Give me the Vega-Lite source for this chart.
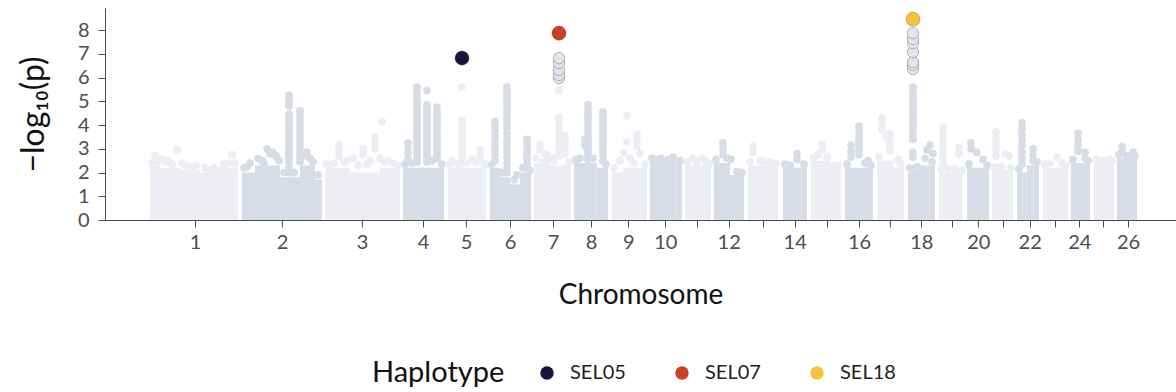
{
  "$schema": "https://vega.github.io/schema/vega-lite/v6.json",
  "width": 1071,
  "height": 212,
  "autosize": {"type": "none"},
  "padding": {"left": 105, "top": 8, "right": 0, "bottom": 172},
  "background": "white",
  "config": {
    "font": "Lato",
    "view": {"stroke": null},
    "axis": {"grid": false, "domainColor": "#4d4d4d", "tickColor": "#4d4d4d", "labelColor": "#4d4d4d", "titleColor": "#111111", "labelFont": "Lato", "titleFont": "Lato", "titleFontWeight": "normal"}
  },
  "datasets": {
    "bands": [
      {"chr":1,"start":0,"end":30,"top":2.3},{"chr":1,"start":30,"end":90,"top":2.2},{"chr":1,"start":90,"end":150,"top":2.1},{"chr":1,"start":150,"end":210,"top":2.0},{"chr":1,"start":210,"end":264,"top":2.2},
      {"chr":2,"start":276,"end":315,"top":2.0},{"chr":2,"start":315,"end":390,"top":2.3},{"chr":2,"start":390,"end":450,"top":1.8},{"chr":2,"start":450,"end":495,"top":2.3},{"chr":2,"start":495,"end":516,"top":1.7},
      {"chr":3,"start":525,"end":600,"top":2.2},{"chr":3,"start":600,"end":690,"top":2.0},{"chr":3,"start":690,"end":750,"top":2.2},
      {"chr":4,"start":759,"end":882,"top":2.2},
      {"chr":5,"start":894,"end":1008,"top":2.2},
      {"chr":6,"start":1020,"end":1050,"top":2.2},{"chr":6,"start":1050,"end":1080,"top":1.8},{"chr":6,"start":1080,"end":1110,"top":1.5},{"chr":6,"start":1110,"end":1143,"top":2.0},
      {"chr":7,"start":1152,"end":1170,"top":2.4},{"chr":7,"start":1170,"end":1200,"top":2.6},{"chr":7,"start":1200,"end":1263,"top":2.3},
      {"chr":8,"start":1272,"end":1340,"top":2.4},{"chr":8,"start":1340,"end":1374,"top":2.2},
      {"chr":9,"start":1386,"end":1420,"top":2.0},{"chr":9,"start":1420,"end":1491,"top":2.2},
      {"chr":10,"start":1500,"end":1580,"top":2.5},{"chr":10,"start":1580,"end":1596,"top":2.4},
      {"chr":11,"start":1605,"end":1683,"top":2.3},
      {"chr":12,"start":1692,"end":1740,"top":2.4},{"chr":12,"start":1740,"end":1782,"top":1.9},
      {"chr":13,"start":1794,"end":1884,"top":2.3},
      {"chr":14,"start":1899,"end":1971,"top":2.2},
      {"chr":15,"start":1983,"end":2040,"top":2.5},{"chr":15,"start":2040,"end":2073,"top":2.2},
      {"chr":16,"start":2085,"end":2169,"top":2.2},
      {"chr":17,"start":2181,"end":2230,"top":2.5},{"chr":17,"start":2230,"end":2262,"top":2.2},
      {"chr":18,"start":2274,"end":2310,"top":2.1},{"chr":18,"start":2310,"end":2355,"top":2.3},
      {"chr":19,"start":2367,"end":2439,"top":2.0},
      {"chr":20,"start":2451,"end":2517,"top":2.2},
      {"chr":21,"start":2526,"end":2589,"top":2.1},
      {"chr":22,"start":2601,"end":2630,"top":2.0},{"chr":22,"start":2630,"end":2667,"top":2.3},
      {"chr":23,"start":2679,"end":2754,"top":2.2},
      {"chr":24,"start":2763,"end":2820,"top":2.4},
      {"chr":25,"start":2832,"end":2892,"top":2.4},
      {"chr":26,"start":2901,"end":2961,"top":2.6}
    ],
    "pts": [
      {"chr":1,"pos":6,"p":2.4},{"chr":1,"pos":24,"p":2.5},{"chr":1,"pos":36,"p":2.55},{"chr":1,"pos":66,"p":2.35},{"chr":1,"pos":108,"p":2.3},{"chr":1,"pos":138,"p":2.3},{"chr":1,"pos":180,"p":2.1},{"chr":1,"pos":192,"p":2.2},{"chr":1,"pos":222,"p":2.35},{"chr":1,"pos":255,"p":2.4},
      {"chr":1,"pos":15,"p":2.7},{"chr":1,"pos":48,"p":2.45},{"chr":1,"pos":54,"p":2.5},{"chr":1,"pos":81,"p":2.95},{"chr":1,"pos":96,"p":2.4},{"chr":1,"pos":126,"p":2.25},{"chr":1,"pos":165,"p":2.2},{"chr":1,"pos":204,"p":2.1},{"chr":1,"pos":234,"p":2.4},{"chr":1,"pos":246,"p":2.75},
      {"chr":2,"pos":282,"p":2.2},{"chr":2,"pos":300,"p":2.4},{"chr":2,"pos":342,"p":2.4},{"chr":2,"pos":387,"p":2.5},{"chr":2,"pos":402,"p":2.0},{"chr":2,"pos":432,"p":2.0},{"chr":2,"pos":489,"p":2.45},{"chr":2,"pos":504,"p":1.9},
      {"chr":2,"pos":291,"p":2.25},{"chr":2,"pos":324,"p":2.6},{"chr":2,"pos":336,"p":2.5},{"chr":2,"pos":351,"p":3.0},{"chr":2,"pos":360,"p":2.8},{"chr":2,"pos":369,"p":2.85},{"chr":2,"pos":378,"p":2.7},
      {"chr":2,"pos":417,"p":5.25},{"chr":2,"pos":417,"p":5.1},{"chr":2,"pos":417,"p":4.95},{"chr":2,"pos":417,"p":4.8},{"chr":2,"pos":417,"p":4.45},{"chr":2,"pos":417,"p":4.3},{"chr":2,"pos":417,"p":4.1},{"chr":2,"pos":417,"p":3.95},{"chr":2,"pos":417,"p":3.8},{"chr":2,"pos":417,"p":3.65},{"chr":2,"pos":417,"p":3.5},{"chr":2,"pos":417,"p":3.35},{"chr":2,"pos":417,"p":3.2},{"chr":2,"pos":417,"p":3.05},{"chr":2,"pos":417,"p":2.9},{"chr":2,"pos":417,"p":2.75},{"chr":2,"pos":417,"p":2.6},{"chr":2,"pos":417,"p":2.45},{"chr":2,"pos":417,"p":2.2},{"chr":2,"pos":417,"p":2.0},
      {"chr":2,"pos":450,"p":4.6},{"chr":2,"pos":450,"p":4.45},{"chr":2,"pos":450,"p":4.3},{"chr":2,"pos":450,"p":4.1},{"chr":2,"pos":450,"p":3.95},{"chr":2,"pos":450,"p":3.8},{"chr":2,"pos":450,"p":3.65},{"chr":2,"pos":450,"p":3.45},{"chr":2,"pos":450,"p":3.3},{"chr":2,"pos":450,"p":3.15},{"chr":2,"pos":450,"p":2.95},{"chr":2,"pos":450,"p":2.8},{"chr":2,"pos":450,"p":2.6},{"chr":2,"pos":450,"p":2.45},
      {"chr":2,"pos":459,"p":2.7},{"chr":2,"pos":471,"p":2.85},{"chr":2,"pos":480,"p":2.6},
      {"chr":3,"pos":528,"p":2.35},{"chr":3,"pos":552,"p":2.4},{"chr":3,"pos":582,"p":2.45},{"chr":3,"pos":624,"p":2.3},{"chr":3,"pos":651,"p":2.35},{"chr":3,"pos":705,"p":2.45},{"chr":3,"pos":744,"p":2.3},
      {"chr":3,"pos":540,"p":2.3},{"chr":3,"pos":567,"p":3.2},{"chr":3,"pos":567,"p":2.95},{"chr":3,"pos":567,"p":2.7},{"chr":3,"pos":591,"p":2.5},{"chr":3,"pos":609,"p":2.6},{"chr":3,"pos":639,"p":3.0},{"chr":3,"pos":639,"p":2.75},{"chr":3,"pos":660,"p":2.5},{"chr":3,"pos":675,"p":3.5},{"chr":3,"pos":675,"p":3.25},{"chr":3,"pos":675,"p":3.0},{"chr":3,"pos":690,"p":2.6},{"chr":3,"pos":696,"p":4.15},{"chr":3,"pos":714,"p":2.5},{"chr":3,"pos":729,"p":2.4},
      {"chr":4,"pos":765,"p":2.35},{"chr":4,"pos":786,"p":2.4},{"chr":4,"pos":846,"p":2.5},{"chr":4,"pos":876,"p":2.35},
      {"chr":4,"pos":774,"p":3.25},{"chr":4,"pos":774,"p":3.0},{"chr":4,"pos":774,"p":2.8},{"chr":4,"pos":774,"p":2.55},
      {"chr":4,"pos":801,"p":5.6},{"chr":4,"pos":801,"p":5.45},{"chr":4,"pos":801,"p":5.3},{"chr":4,"pos":801,"p":5.1},{"chr":4,"pos":801,"p":4.95},{"chr":4,"pos":801,"p":4.8},{"chr":4,"pos":801,"p":4.6},{"chr":4,"pos":801,"p":4.45},{"chr":4,"pos":801,"p":4.3},{"chr":4,"pos":801,"p":4.1},{"chr":4,"pos":801,"p":3.95},{"chr":4,"pos":801,"p":3.8},{"chr":4,"pos":801,"p":3.6},{"chr":4,"pos":801,"p":3.45},{"chr":4,"pos":801,"p":3.3},{"chr":4,"pos":801,"p":3.1},{"chr":4,"pos":801,"p":2.95},{"chr":4,"pos":801,"p":2.8},{"chr":4,"pos":801,"p":2.6},{"chr":4,"pos":801,"p":2.45},
      {"chr":4,"pos":831,"p":5.45},{"chr":4,"pos":831,"p":4.85},{"chr":4,"pos":831,"p":4.7},{"chr":4,"pos":831,"p":4.55},{"chr":4,"pos":831,"p":4.4},{"chr":4,"pos":831,"p":4.25},{"chr":4,"pos":831,"p":4.1},{"chr":4,"pos":831,"p":3.9},{"chr":4,"pos":831,"p":3.75},{"chr":4,"pos":831,"p":3.6},{"chr":4,"pos":831,"p":3.4},{"chr":4,"pos":831,"p":3.25},{"chr":4,"pos":831,"p":3.1},{"chr":4,"pos":831,"p":2.9},{"chr":4,"pos":831,"p":2.75},{"chr":4,"pos":831,"p":2.6},{"chr":4,"pos":831,"p":2.45},
      {"chr":4,"pos":861,"p":4.75},{"chr":4,"pos":861,"p":4.6},{"chr":4,"pos":861,"p":4.45},{"chr":4,"pos":861,"p":4.3},{"chr":4,"pos":861,"p":4.1},{"chr":4,"pos":861,"p":3.95},{"chr":4,"pos":861,"p":3.8},{"chr":4,"pos":861,"p":3.6},{"chr":4,"pos":861,"p":3.45},{"chr":4,"pos":861,"p":3.3},{"chr":4,"pos":861,"p":3.1},{"chr":4,"pos":861,"p":2.95},{"chr":4,"pos":861,"p":2.75},{"chr":4,"pos":861,"p":2.6},
      {"chr":5,"pos":897,"p":2.35},{"chr":5,"pos":912,"p":2.45},{"chr":5,"pos":951,"p":2.4},{"chr":5,"pos":1005,"p":2.3},
      {"chr":5,"pos":906,"p":2.5},{"chr":5,"pos":924,"p":2.35},{"chr":5,"pos":936,"p":5.6},{"chr":5,"pos":936,"p":4.2},{"chr":5,"pos":936,"p":4.0},{"chr":5,"pos":936,"p":3.8},{"chr":5,"pos":936,"p":3.6},{"chr":5,"pos":936,"p":3.4},{"chr":5,"pos":936,"p":3.2},{"chr":5,"pos":936,"p":3.0},{"chr":5,"pos":936,"p":2.8},{"chr":5,"pos":936,"p":2.6},{"chr":5,"pos":936,"p":2.4},{"chr":5,"pos":966,"p":2.55},{"chr":5,"pos":978,"p":2.4},{"chr":5,"pos":990,"p":2.95},{"chr":5,"pos":990,"p":2.7},{"chr":5,"pos":1002,"p":2.4},
      {"chr":6,"pos":1026,"p":2.35},{"chr":6,"pos":1056,"p":2.0},{"chr":6,"pos":1092,"p":1.7},{"chr":6,"pos":1119,"p":2.2},{"chr":6,"pos":1140,"p":2.1},
      {"chr":6,"pos":1035,"p":4.15},{"chr":6,"pos":1035,"p":3.95},{"chr":6,"pos":1035,"p":3.75},{"chr":6,"pos":1035,"p":3.55},{"chr":6,"pos":1035,"p":3.35},{"chr":6,"pos":1035,"p":3.15},{"chr":6,"pos":1035,"p":2.95},{"chr":6,"pos":1035,"p":2.75},{"chr":6,"pos":1035,"p":2.5},
      {"chr":6,"pos":1071,"p":5.6},{"chr":6,"pos":1071,"p":5.45},{"chr":6,"pos":1071,"p":5.3},{"chr":6,"pos":1071,"p":5.1},{"chr":6,"pos":1071,"p":4.95},{"chr":6,"pos":1071,"p":4.8},{"chr":6,"pos":1071,"p":4.6},{"chr":6,"pos":1071,"p":4.45},{"chr":6,"pos":1071,"p":4.3},{"chr":6,"pos":1071,"p":4.1},{"chr":6,"pos":1071,"p":3.9},{"chr":6,"pos":1071,"p":3.65},{"chr":6,"pos":1071,"p":3.4},{"chr":6,"pos":1071,"p":3.25},{"chr":6,"pos":1071,"p":3.05},{"chr":6,"pos":1071,"p":2.85},{"chr":6,"pos":1071,"p":2.65},{"chr":6,"pos":1071,"p":2.4},{"chr":6,"pos":1071,"p":2.2},{"chr":6,"pos":1071,"p":2.0},
      {"chr":6,"pos":1101,"p":1.9},{"chr":6,"pos":1131,"p":3.4},{"chr":6,"pos":1131,"p":3.2},{"chr":6,"pos":1131,"p":3.0},{"chr":6,"pos":1131,"p":2.8},{"chr":6,"pos":1131,"p":2.6},{"chr":6,"pos":1131,"p":2.4},{"chr":6,"pos":1131,"p":2.2},
      {"chr":7,"pos":1158,"p":2.6},{"chr":7,"pos":1191,"p":2.75},{"chr":7,"pos":1212,"p":2.5},{"chr":7,"pos":1257,"p":2.45},
      {"chr":7,"pos":1170,"p":3.2},{"chr":7,"pos":1170,"p":2.95},{"chr":7,"pos":1182,"p":2.8},{"chr":7,"pos":1206,"p":2.6},{"chr":7,"pos":1227,"p":5.47},{"chr":7,"pos":1227,"p":4.3},{"chr":7,"pos":1227,"p":4.1},{"chr":7,"pos":1227,"p":3.9},{"chr":7,"pos":1227,"p":3.7},{"chr":7,"pos":1227,"p":3.5},{"chr":7,"pos":1227,"p":3.3},{"chr":7,"pos":1227,"p":3.1},{"chr":7,"pos":1227,"p":2.9},{"chr":7,"pos":1227,"p":2.7},{"chr":7,"pos":1245,"p":3.55},{"chr":7,"pos":1245,"p":3.3},{"chr":7,"pos":1245,"p":3.05},{"chr":7,"pos":1245,"p":2.8},
      {"chr":8,"pos":1278,"p":2.55},{"chr":8,"pos":1329,"p":2.6},{"chr":8,"pos":1368,"p":2.35},
      {"chr":8,"pos":1290,"p":2.6},{"chr":8,"pos":1305,"p":3.4},{"chr":8,"pos":1305,"p":3.15},
      {"chr":8,"pos":1314,"p":4.85},{"chr":8,"pos":1314,"p":4.7},{"chr":8,"pos":1314,"p":4.5},{"chr":8,"pos":1314,"p":4.35},{"chr":8,"pos":1314,"p":4.2},{"chr":8,"pos":1314,"p":4.0},{"chr":8,"pos":1314,"p":3.85},{"chr":8,"pos":1314,"p":3.7},{"chr":8,"pos":1314,"p":3.5},{"chr":8,"pos":1314,"p":3.35},{"chr":8,"pos":1314,"p":3.2},{"chr":8,"pos":1314,"p":3.0},{"chr":8,"pos":1314,"p":2.85},{"chr":8,"pos":1314,"p":2.7},{"chr":8,"pos":1314,"p":2.55},
      {"chr":8,"pos":1359,"p":4.55},{"chr":8,"pos":1359,"p":4.4},{"chr":8,"pos":1359,"p":4.25},{"chr":8,"pos":1359,"p":4.05},{"chr":8,"pos":1359,"p":3.9},{"chr":8,"pos":1359,"p":3.75},{"chr":8,"pos":1359,"p":3.55},{"chr":8,"pos":1359,"p":3.4},{"chr":8,"pos":1359,"p":3.25},{"chr":8,"pos":1359,"p":3.05},{"chr":8,"pos":1359,"p":2.9},{"chr":8,"pos":1359,"p":2.7},{"chr":8,"pos":1359,"p":2.5},
      {"chr":9,"pos":1392,"p":2.2},{"chr":9,"pos":1452,"p":2.4},{"chr":9,"pos":1485,"p":2.35},
      {"chr":9,"pos":1410,"p":2.5},{"chr":9,"pos":1422,"p":2.85},{"chr":9,"pos":1431,"p":4.4},{"chr":9,"pos":1431,"p":3.3},{"chr":9,"pos":1440,"p":2.6},{"chr":9,"pos":1461,"p":3.6},{"chr":9,"pos":1461,"p":3.35},{"chr":9,"pos":1461,"p":3.1},{"chr":9,"pos":1470,"p":2.8},
      {"chr":10,"pos":1506,"p":2.6},{"chr":10,"pos":1533,"p":2.6},{"chr":10,"pos":1590,"p":2.5},
      {"chr":10,"pos":1515,"p":2.55},{"chr":10,"pos":1554,"p":2.55},{"chr":10,"pos":1569,"p":2.65},
      {"chr":11,"pos":1611,"p":2.45},{"chr":11,"pos":1641,"p":2.45},{"chr":11,"pos":1677,"p":2.4},
      {"chr":11,"pos":1629,"p":2.6},{"chr":11,"pos":1656,"p":2.6},{"chr":11,"pos":1668,"p":2.45},
      {"chr":12,"pos":1698,"p":2.55},{"chr":12,"pos":1731,"p":2.6},{"chr":12,"pos":1776,"p":2.0},
      {"chr":12,"pos":1719,"p":3.25},{"chr":12,"pos":1719,"p":3.0},{"chr":12,"pos":1719,"p":2.75},{"chr":12,"pos":1743,"p":2.55},{"chr":12,"pos":1761,"p":2.05},
      {"chr":13,"pos":1800,"p":2.45},{"chr":13,"pos":1845,"p":2.45},{"chr":13,"pos":1878,"p":2.4},
      {"chr":13,"pos":1809,"p":3.1},{"chr":13,"pos":1809,"p":2.85},{"chr":13,"pos":1830,"p":2.5},{"chr":13,"pos":1860,"p":2.45},
      {"chr":14,"pos":1905,"p":2.35},{"chr":14,"pos":1962,"p":2.35},
      {"chr":14,"pos":1920,"p":2.3},{"chr":14,"pos":1941,"p":2.8},{"chr":14,"pos":1941,"p":2.55},
      {"chr":15,"pos":1989,"p":2.6},{"chr":15,"pos":2031,"p":2.65},{"chr":15,"pos":2064,"p":2.3},
      {"chr":15,"pos":2004,"p":2.75},{"chr":15,"pos":2016,"p":3.2},{"chr":15,"pos":2016,"p":2.95},{"chr":15,"pos":2046,"p":2.3},
      {"chr":16,"pos":2091,"p":2.35},{"chr":16,"pos":2145,"p":2.4},{"chr":16,"pos":2163,"p":2.3},
      {"chr":16,"pos":2103,"p":3.15},{"chr":16,"pos":2103,"p":2.9},{"chr":16,"pos":2103,"p":2.65},{"chr":16,"pos":2127,"p":3.95},{"chr":16,"pos":2127,"p":3.75},{"chr":16,"pos":2127,"p":3.55},{"chr":16,"pos":2127,"p":3.35},{"chr":16,"pos":2127,"p":3.15},{"chr":16,"pos":2127,"p":2.95},{"chr":16,"pos":2127,"p":2.75},{"chr":16,"pos":2154,"p":2.5},
      {"chr":17,"pos":2187,"p":2.65},{"chr":17,"pos":2253,"p":2.35},
      {"chr":17,"pos":2196,"p":4.3},{"chr":17,"pos":2196,"p":4.05},{"chr":17,"pos":2196,"p":3.8},{"chr":17,"pos":2208,"p":3.5},{"chr":17,"pos":2220,"p":3.65},{"chr":17,"pos":2220,"p":3.4},{"chr":17,"pos":2220,"p":3.15},{"chr":17,"pos":2220,"p":2.9},{"chr":17,"pos":2244,"p":2.55},
      {"chr":18,"pos":2280,"p":2.2},{"chr":18,"pos":2301,"p":2.25},{"chr":18,"pos":2346,"p":2.45},
      {"chr":18,"pos":2289,"p":5.6},{"chr":18,"pos":2289,"p":5.35},{"chr":18,"pos":2289,"p":5.1},{"chr":18,"pos":2289,"p":4.95},{"chr":18,"pos":2289,"p":4.8},{"chr":18,"pos":2289,"p":4.6},{"chr":18,"pos":2289,"p":4.45},{"chr":18,"pos":2289,"p":4.3},{"chr":18,"pos":2289,"p":4.1},{"chr":18,"pos":2289,"p":3.95},{"chr":18,"pos":2289,"p":3.75},{"chr":18,"pos":2289,"p":3.55},{"chr":18,"pos":2289,"p":3.4},{"chr":18,"pos":2289,"p":2.85},{"chr":18,"pos":2289,"p":2.65},
      {"chr":18,"pos":2325,"p":2.6},{"chr":18,"pos":2331,"p":2.95},{"chr":18,"pos":2340,"p":3.15},{"chr":18,"pos":2349,"p":2.8},
      {"chr":19,"pos":2373,"p":2.15},{"chr":19,"pos":2394,"p":2.15},{"chr":19,"pos":2436,"p":2.1},
      {"chr":19,"pos":2379,"p":3.9},{"chr":19,"pos":2379,"p":3.65},{"chr":19,"pos":2379,"p":3.4},{"chr":19,"pos":2379,"p":3.15},{"chr":19,"pos":2379,"p":2.9},{"chr":19,"pos":2379,"p":2.65},{"chr":19,"pos":2379,"p":2.4},{"chr":19,"pos":2415,"p":2.15},{"chr":19,"pos":2427,"p":3.05},{"chr":19,"pos":2427,"p":2.8},
      {"chr":20,"pos":2457,"p":2.35},{"chr":20,"pos":2511,"p":2.3},
      {"chr":20,"pos":2463,"p":3.25},{"chr":20,"pos":2463,"p":3.0},{"chr":20,"pos":2481,"p":2.85},{"chr":20,"pos":2499,"p":2.55},
      {"chr":21,"pos":2532,"p":2.25},{"chr":21,"pos":2553,"p":2.25},{"chr":21,"pos":2583,"p":2.2},
      {"chr":21,"pos":2538,"p":3.7},{"chr":21,"pos":2538,"p":3.45},{"chr":21,"pos":2538,"p":3.2},{"chr":21,"pos":2538,"p":2.95},{"chr":21,"pos":2538,"p":2.7},{"chr":21,"pos":2565,"p":2.8},{"chr":21,"pos":2577,"p":2.7},
      {"chr":22,"pos":2607,"p":2.15},{"chr":22,"pos":2661,"p":2.45},
      {"chr":22,"pos":2616,"p":4.1},{"chr":22,"pos":2616,"p":3.85},{"chr":22,"pos":2616,"p":3.6},{"chr":22,"pos":2616,"p":3.35},{"chr":22,"pos":2616,"p":3.1},{"chr":22,"pos":2616,"p":2.85},{"chr":22,"pos":2616,"p":2.6},{"chr":22,"pos":2616,"p":2.35},{"chr":22,"pos":2649,"p":3.0},{"chr":22,"pos":2649,"p":2.75},{"chr":22,"pos":2649,"p":2.5},
      {"chr":23,"pos":2685,"p":2.35},{"chr":23,"pos":2748,"p":2.3},
      {"chr":23,"pos":2700,"p":2.4},{"chr":23,"pos":2721,"p":2.65},{"chr":23,"pos":2736,"p":2.4},
      {"chr":24,"pos":2769,"p":2.55},{"chr":24,"pos":2814,"p":2.5},
      {"chr":24,"pos":2784,"p":3.65},{"chr":24,"pos":2784,"p":3.4},{"chr":24,"pos":2784,"p":3.15},{"chr":24,"pos":2784,"p":2.9},{"chr":24,"pos":2805,"p":2.85},{"chr":24,"pos":2805,"p":2.6},
      {"chr":25,"pos":2838,"p":2.55},{"chr":25,"pos":2886,"p":2.5},
      {"chr":25,"pos":2859,"p":2.5},{"chr":25,"pos":2880,"p":2.55},
      {"chr":26,"pos":2907,"p":2.75},{"chr":26,"pos":2955,"p":2.7},
      {"chr":26,"pos":2916,"p":3.1},{"chr":26,"pos":2916,"p":2.85},{"chr":26,"pos":2931,"p":2.7},{"chr":26,"pos":2949,"p":2.85}
    ],
    "sig": [
      {"chr":7,"pos":1227,"p":5.98},{"chr":7,"pos":1227,"p":6.11},{"chr":7,"pos":1227,"p":6.32},{"chr":7,"pos":1227,"p":6.61},{"chr":7,"pos":1227,"p":6.82},
      {"chr":18,"pos":2289,"p":6.36},{"chr":18,"pos":2289,"p":6.53},{"chr":18,"pos":2289,"p":6.65},{"chr":18,"pos":2289,"p":7.07},{"chr":18,"pos":2289,"p":7.45},{"chr":18,"pos":2289,"p":7.62},{"chr":18,"pos":2289,"p":7.87}
    ],
    "hap": [
      {"Haplotype":"SEL05","pos":936,"p":6.82},
      {"Haplotype":"SEL07","pos":1227,"p":7.87},
      {"Haplotype":"SEL18","pos":2289,"p":8.46}
    ]
  },
  "layer": [
    {
      "data": {"name": "bands"},
      "transform": [{"calculate": "datum.chr % 2 === 1 ? 'odd' : 'even'", "as": "shade"}],
      "mark": {"type": "rect"},
      "encoding": {
        "x": {"field": "start", "type": "quantitative",
              "scale": {"domain": [-135, 3078], "nice": false, "zero": false},
              "axis": {
                "title": "Chromosome", "titleFontSize": 28, "titlePadding": 29,
                "values": [135,396,636,819,948,1080,1209,1323,1435,1546,1642,1736,1838,1934,2030,2127,2221,2314,2405,2485,2559,2639,2714,2788,2860,2934],
                "labelExpr": "['1','2','3','4','5','6','7','8','9','10','','12','','14','','16','','18','','20','','22','','24','','26'][indexof([135,396,636,819,948,1080,1209,1323,1435,1546,1642,1736,1838,1934,2030,2127,2221,2314,2405,2485,2559,2639,2714,2788,2860,2934], datum.value)]",
                "labelFontSize": 20, "labelOverlap": false, "labelFlush": false, "labelPadding": 5, "tickSize": 7
              }},
        "x2": {"field": "end"},
        "y": {"field": "top", "type": "quantitative",
              "scale": {"domain": [0, 8.93], "nice": false},
              "axis": {"title": "−log₁₀(p)", "titleFontSize": 32, "titlePadding": 27, "values": [0,1,2,3,4,5,6,7,8], "labelOverlap": false, "labelFontSize": 20, "tickSize": 7, "labelPadding": 9}},
        "y2": {"datum": 0},
        "color": {"field": "shade", "type": "nominal", "scale": {"domain": ["odd", "even"], "range": ["#eceef3", "#d7dce6"]}, "legend": null}
      }
    },
    {
      "data": {"name": "pts"},
      "transform": [{"calculate": "datum.chr % 2 === 1 ? 'odd' : 'even'", "as": "shade"}],
      "mark": {"type": "point", "filled": true, "shape": "circle", "size": 60, "opacity": 1},
      "encoding": {
        "x": {"field": "pos", "type": "quantitative"},
        "y": {"field": "p", "type": "quantitative",
              "axis": {"title": "−log₁₀(p)", "titleFontSize": 32, "titlePadding": 27, "values": [0,1,2,3,4,5,6,7,8], "labelOverlap": false, "labelFontSize": 20, "tickSize": 7, "labelPadding": 9}},
        "color": {"field": "shade", "type": "nominal", "legend": null}
      }
    },
    {
      "mark": {"type": "rule", "color": "#c6c6c6", "strokeWidth": 2.5, "strokeDash": [11, 8]},
      "encoding": {"y": {"datum": 5.94, "type": "quantitative",
              "axis": {"title": "−log₁₀(p)", "titleFontSize": 32, "titlePadding": 27, "values": [0,1,2,3,4,5,6,7,8], "labelOverlap": false, "labelFontSize": 20, "tickSize": 7, "labelPadding": 9}}}
    },
    {
      "data": {"name": "sig"},
      "mark": {"type": "point", "shape": "circle", "filled": true, "size": 130, "fill": "#e2e5ec", "stroke": "#a9a9b1", "strokeWidth": 1, "opacity": 0.9},
      "encoding": {
        "x": {"field": "pos", "type": "quantitative"},
        "y": {"field": "p", "type": "quantitative",
              "axis": {"title": "−log₁₀(p)", "titleFontSize": 32, "titlePadding": 27, "values": [0,1,2,3,4,5,6,7,8], "labelOverlap": false, "labelFontSize": 20, "tickSize": 7, "labelPadding": 9}}
      }
    },
    {
      "data": {"name": "hap"},
      "mark": {"type": "point", "shape": "circle", "filled": true, "size": 200, "opacity": 1, "stroke": "#333333", "strokeWidth": 0.8, "strokeOpacity": 0.35},
      "encoding": {
        "x": {"field": "pos", "type": "quantitative"},
        "y": {"field": "p", "type": "quantitative",
              "axis": {"title": "−log₁₀(p)", "titleFontSize": 32, "titlePadding": 27, "values": [0,1,2,3,4,5,6,7,8], "labelOverlap": false, "labelFontSize": 20, "tickSize": 7, "labelPadding": 9}},
        "fill": {"field": "Haplotype", "type": "nominal",
                 "scale": {"domain": ["SEL05", "SEL07", "SEL18"], "range": ["#17163a", "#cc4125", "#f7c23e"]},
                 "legend": {"orient": "none", "legendX": 267, "legendY": 355, "direction": "horizontal", "titleOrient": "left",
                            "title": "Haplotype", "titleFontSize": 29, "titleFontWeight": "normal", "titleColor": "#111111", "titleFont": "Lato",
                            "labelFontSize": 20, "labelColor": "#222222", "labelFont": "Lato", "symbolSize": 180, "symbolStrokeWidth": 0,
                            "labelOffset": 13, "columnPadding": 46, "titlePadding": 32, "symbolType": "circle"}}
      }
    }
  ]
}
